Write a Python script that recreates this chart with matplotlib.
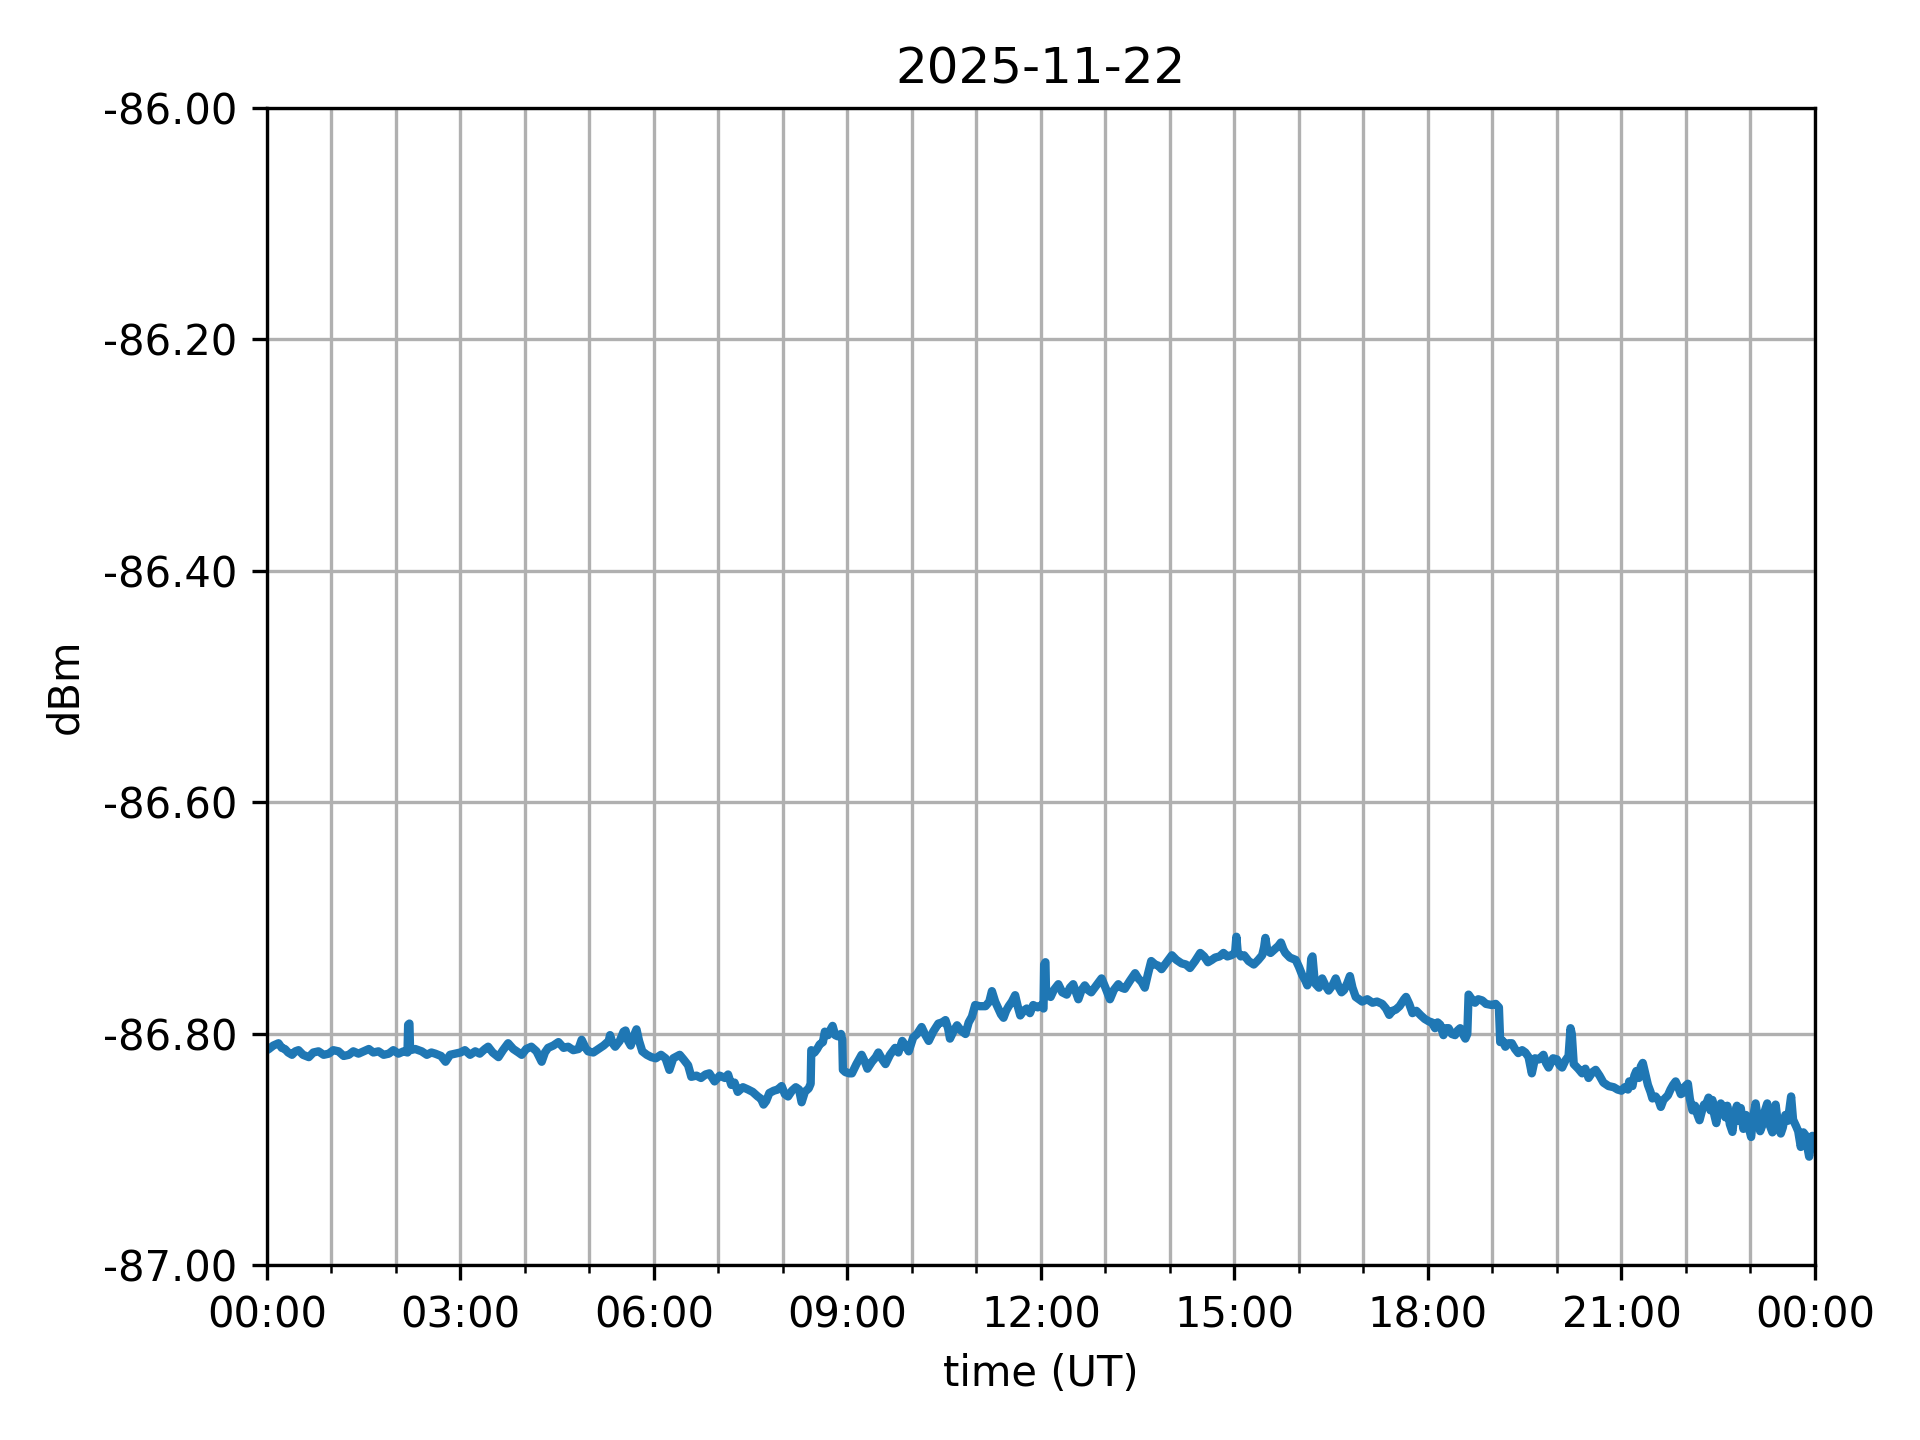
import datetime as dt
import matplotlib
matplotlib.use("Agg")
import matplotlib.pyplot as plt
import matplotlib.dates as mdates
from matplotlib.ticker import FormatStrFormatter, MultipleLocator

title = "2025-11-22"
day_start = dt.datetime(2025, 11, 22, 0, 0)

# hours since 00:00 UT
hours = [
    0.00, 0.03, 0.10, 0.18, 0.23, 0.28, 0.33, 0.39, 0.44, 0.49, 0.56, 0.65, 0.72, 0.80, 0.88, 0.96,
    1.03, 1.11, 1.19, 1.27, 1.34, 1.42, 1.50, 1.58, 1.65, 1.73, 1.81, 1.89, 1.96, 2.04, 2.12, 2.18,
    2.19, 2.21, 2.22, 2.30, 2.40, 2.48, 2.55, 2.61, 2.70, 2.77, 2.84, 2.92,
    3.00, 3.07, 3.15, 3.23, 3.30, 3.38, 3.43, 3.50, 3.59, 3.66, 3.74, 3.82, 3.90, 3.95, 4.02, 4.10,
    4.18, 4.26, 4.31, 4.36, 4.44, 4.52, 4.60, 4.67, 4.75, 4.83, 4.88, 4.94, 4.98, 5.06, 5.14, 5.22,
    5.30, 5.32, 5.36, 5.40, 5.47, 5.53, 5.56, 5.60, 5.64, 5.70, 5.73, 5.77, 5.82, 5.89, 5.96, 6.03,
    6.11, 6.18, 6.24, 6.30, 6.40, 6.46, 6.53, 6.58, 6.66, 6.73, 6.80, 6.86, 6.94, 7.02, 7.10, 7.15,
    7.20, 7.25, 7.30, 7.38, 7.46, 7.53, 7.61, 7.66, 7.70, 7.74, 7.79, 7.86, 7.92, 7.98, 8.03, 8.08,
    8.14, 8.20, 8.25, 8.29, 8.34, 8.40, 8.43, 8.44, 8.49, 8.53, 8.57, 8.62, 8.65, 8.70, 8.74, 8.77,
    8.81, 8.85, 8.90, 8.92, 8.93,
    8.97, 9.03, 9.07, 9.14, 9.22, 9.27, 9.31, 9.38, 9.44, 9.48, 9.54, 9.59, 9.66, 9.74, 9.79, 9.85,
    9.90, 9.95, 10.02, 10.08, 10.15, 10.20, 10.26, 10.33, 10.41, 10.47, 10.52, 10.56, 10.59, 10.65,
    10.70, 10.76, 10.83, 10.88, 10.93, 10.98, 11.05, 11.14, 11.20, 11.24, 11.29, 11.34, 11.38, 11.42,
    11.46, 11.50, 11.55, 11.60, 11.64, 11.68, 11.73, 11.78, 11.83, 11.88, 11.95, 12.01,
    12.04, 12.05, 12.07, 12.08, 12.15, 12.20, 12.27, 12.33, 12.40, 12.45, 12.50, 12.58, 12.63, 12.68,
    12.73, 12.78, 12.86, 12.94, 13.00, 13.07, 13.13, 13.20, 13.25, 13.30, 13.38, 13.46, 13.51, 13.56,
    13.61, 13.66, 13.71, 13.77, 13.82, 13.87, 13.95, 14.03, 14.10, 14.18, 14.25, 14.31, 14.39, 14.47,
    14.53, 14.59, 14.65, 14.70, 14.77, 14.83, 14.89, 14.95, 15.01, 15.03, 15.05,
    15.10, 15.15, 15.22, 15.30, 15.37, 15.43, 15.46, 15.48, 15.51, 15.56, 15.62, 15.68, 15.72, 15.76,
    15.79, 15.86, 15.95, 16.00, 16.05, 16.10, 16.13, 16.17, 16.19, 16.21, 16.24, 16.26, 16.31, 16.36,
    16.41, 16.46, 16.52, 16.57, 16.62, 16.66, 16.70, 16.75, 16.79, 16.83, 16.88, 16.93, 16.98, 17.06,
    17.14, 17.21, 17.29, 17.35, 17.40, 17.45, 17.50, 17.56, 17.63, 17.66, 17.71, 17.76, 17.82, 17.89,
    17.95, 18.01,
    18.06, 18.11, 18.15, 18.19, 18.24, 18.28, 18.32, 18.37, 18.42, 18.46, 18.50, 18.54, 18.58, 18.61,
    18.63, 18.68, 18.73, 18.78, 18.84, 18.90, 18.99, 19.05, 19.10, 19.12, 19.16, 19.20, 19.25, 19.30,
    19.35, 19.40, 19.46, 19.51, 19.56, 19.61, 19.66, 19.72, 19.79, 19.83, 19.87, 19.94, 20.00, 20.04,
    20.08, 20.13, 20.18, 20.21, 20.23, 20.26, 20.33, 20.39, 20.44, 20.49, 20.55, 20.60, 20.66, 20.72,
    20.80, 20.88, 20.94,
    21.00, 21.05, 21.10, 21.12, 21.17, 21.20, 21.23, 21.27, 21.30, 21.33, 21.36, 21.41, 21.45, 21.48,
    21.53, 21.58, 21.61, 21.65, 21.72, 21.76, 21.80, 21.84, 21.88, 21.92, 21.95, 21.99, 22.03, 22.06,
    22.10, 22.14, 22.18, 22.21, 22.25, 22.28, 22.31, 22.35, 22.38, 22.41, 22.44, 22.47, 22.50, 22.54,
    22.57, 22.61, 22.64, 22.68, 22.72, 22.75, 22.79, 22.82, 22.85, 22.89, 22.93, 22.97, 23.01, 23.04,
    23.08, 23.12, 23.15, 23.19, 23.22, 23.26, 23.30, 23.34, 23.37, 23.39, 23.43, 23.47, 23.50, 23.54,
    23.58, 23.63, 23.66, 23.71, 23.74, 23.78, 23.82, 23.86, 23.89, 23.91, 23.94, 23.96, 24.00,
]

dbm = [
    -86.814, -86.813, -86.810, -86.808, -86.812, -86.813, -86.816, -86.818, -86.815, -86.814, -86.818, -86.820, -86.816, -86.815, -86.818, -86.817,
    -86.814, -86.815, -86.819, -86.818, -86.815, -86.817, -86.815, -86.813, -86.816, -86.815, -86.818, -86.817, -86.814, -86.817, -86.815, -86.816,
    -86.792, -86.791, -86.814, -86.813, -86.815, -86.818, -86.816, -86.817, -86.819, -86.824, -86.818, -86.817,
    -86.816, -86.814, -86.818, -86.815, -86.817, -86.813, -86.811, -86.816, -86.820, -86.814, -86.808, -86.813, -86.816, -86.818, -86.813, -86.811,
    -86.815, -86.824, -86.816, -86.812, -86.810, -86.807, -86.812, -86.811, -86.814, -86.813, -86.805, -86.812, -86.815, -86.816, -86.813, -86.810,
    -86.806, -86.801, -86.808, -86.811, -86.806, -86.798, -86.797, -86.806, -86.810, -86.800, -86.796, -86.806, -86.815, -86.818, -86.820, -86.821,
    -86.818, -86.821, -86.831, -86.821, -86.818, -86.822, -86.827, -86.837, -86.836, -86.838, -86.835, -86.834, -86.841, -86.836, -86.838, -86.835,
    -86.844, -86.842, -86.850, -86.846, -86.848, -86.850, -86.854, -86.856, -86.861, -86.858, -86.851, -86.849, -86.848, -86.845, -86.852, -86.854,
    -86.849, -86.846, -86.848, -86.859, -86.850, -86.847, -86.843, -86.814, -86.816, -86.813, -86.809, -86.807, -86.798, -86.801, -86.796, -86.793,
    -86.801, -86.802, -86.800, -86.805, -86.831,
    -86.833, -86.834, -86.834, -86.826, -86.818, -86.824, -86.830, -86.824, -86.820, -86.816, -86.822, -86.826, -86.818, -86.812, -86.816, -86.806,
    -86.810, -86.815, -86.803, -86.800, -86.794, -86.800, -86.806, -86.798, -86.791, -86.790, -86.788, -86.795, -86.804, -86.797,
    -86.7925, -86.797, -86.800, -86.790, -86.785, -86.775, -86.776, -86.776, -86.772, -86.763, -86.772, -86.778, -86.783, -86.786,
    -86.780, -86.776, -86.772, -86.7665, -86.776, -86.784, -86.780, -86.778, -86.782, -86.775, -86.777, -86.775,
    -86.778, -86.740, -86.738, -86.766, -86.768, -86.762, -86.757, -86.764, -86.766, -86.760, -86.757, -86.770, -86.762, -86.758,
    -86.762, -86.764, -86.758, -86.752, -86.760, -86.770, -86.762, -86.757, -86.760, -86.761, -86.754, -86.7475, -86.752, -86.755,
    -86.760, -86.748, -86.737, -86.740, -86.741, -86.744, -86.738, -86.732, -86.736, -86.739, -86.740, -86.743, -86.737, -86.730,
    -86.733, -86.738, -86.736, -86.734, -86.733, -86.730, -86.733, -86.732, -86.730, -86.716, -86.729,
    -86.733, -86.732, -86.737, -86.740, -86.736, -86.732, -86.725, -86.717, -86.728, -86.730, -86.727, -86.724, -86.721, -86.727,
    -86.730, -86.734, -86.736, -86.742, -86.749, -86.754, -86.758, -86.752, -86.735, -86.733, -86.752, -86.757, -86.760, -86.752,
    -86.758, -86.7625, -86.758, -86.752, -86.760, -86.764, -86.762, -86.756, -86.750, -86.760, -86.768, -86.770, -86.772, -86.770,
    -86.773, -86.772, -86.774, -86.778, -86.7835, -86.780, -86.779, -86.776, -86.770, -86.768, -86.774, -86.782, -86.780, -86.784,
    -86.787, -86.789,
    -86.790, -86.795, -86.790, -86.792, -86.801, -86.795, -86.795, -86.800, -86.801, -86.797, -86.795, -86.800, -86.804, -86.800,
    -86.766, -86.770, -86.773, -86.770, -86.771, -86.774, -86.775, -86.774, -86.777, -86.807, -86.806, -86.811, -86.808, -86.808,
    -86.813, -86.8165, -86.814, -86.816, -86.820, -86.834, -86.821, -86.822, -86.818, -86.825, -86.829, -86.821, -86.822, -86.827,
    -86.829, -86.823, -86.819, -86.795, -86.800, -86.826, -86.830, -86.834, -86.830, -86.838, -86.833, -86.831, -86.836, -86.842,
    -86.845, -86.846, -86.848,
    -86.849, -86.846, -86.848, -86.841, -86.845, -86.836, -86.832, -86.838, -86.828, -86.825, -86.832, -86.844, -86.850, -86.8557,
    -86.854, -86.858, -86.863, -86.857, -86.853, -86.848, -86.844, -86.841, -86.846, -86.852, -86.851, -86.845, -86.843, -86.856,
    -86.866, -86.862, -86.870, -86.8745, -86.866, -86.861, -86.861, -86.855, -86.866, -86.857, -86.870, -86.877, -86.866, -86.860,
    -86.863, -86.872, -86.862, -86.878, -86.8846, -86.870, -86.862, -86.875, -86.864, -86.882, -86.870, -86.880, -86.889, -86.872,
    -86.860, -86.876, -86.884, -86.878, -86.867, -86.860, -86.879, -86.885, -86.868, -86.861, -86.880, -86.886, -86.881, -86.870,
    -86.875, -86.854, -86.874, -86.880, -86.884, -86.8976, -86.885, -86.888, -86.900, -86.906, -86.894, -86.888, -86.893,
]

y_min, y_max = -87.0, -86.0

times = [day_start + dt.timedelta(hours=h) for h in hours]

fig = plt.figure(figsize=(6.4, 4.8), dpi=300)
ax = fig.add_subplot(111)
fig.subplots_adjust(left=0.139, right=0.9453, top=0.925, bottom=0.1212)

ax.plot(times, dbm, color="#1f77b4", linewidth=2.0)

ax.set_xlim(day_start, day_start + dt.timedelta(days=1))
ax.set_ylim(y_min, y_max)
ax.xaxis.set_major_locator(mdates.HourLocator(interval=3))
ax.xaxis.set_minor_locator(mdates.HourLocator(interval=1))
ax.xaxis.set_major_formatter(mdates.DateFormatter("%H:%M"))
ax.yaxis.set_major_locator(MultipleLocator(0.2))
ax.yaxis.set_major_formatter(FormatStrFormatter("%.2f"))

ax.grid(True, which="major", axis="both")
ax.grid(True, which="minor", axis="x")

ax.set_title(title)
ax.set_xlabel("time (UT)")
ax.set_ylabel("dBm")

fig.savefig("out.png", dpi=300)
